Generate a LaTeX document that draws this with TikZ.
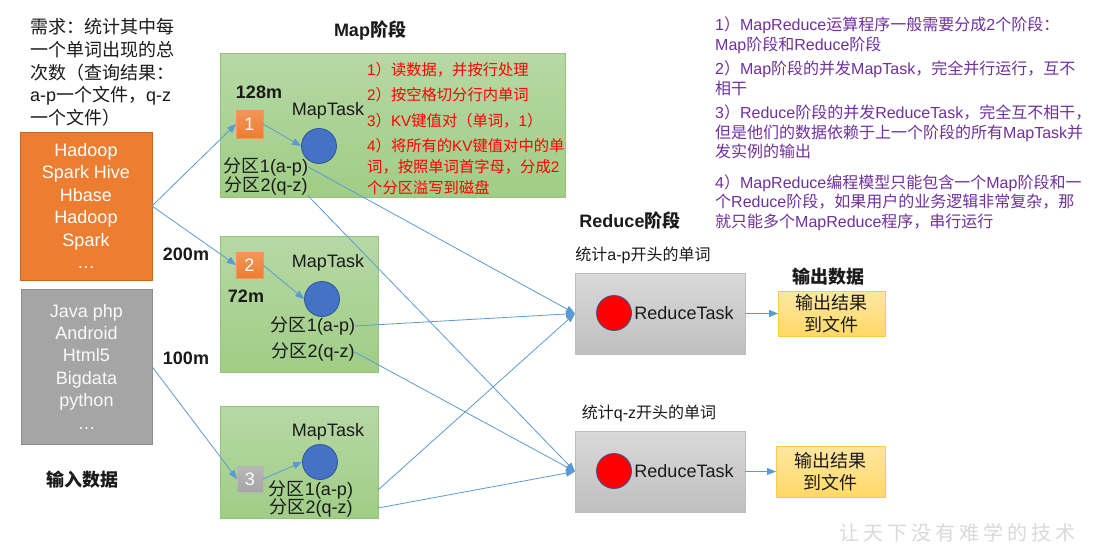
\documentclass[tikz,border=0pt]{standalone}
\usepackage{fontspec}
\setmainfont{Liberation Sans}
\newfontfamily\cjk{Noto Sans CJK SC}
\newfontfamily\cjkwm{Noto Sans CJK SC}[LetterSpace=20]
\usetikzlibrary{arrows.meta}
\newcommand\zh[1]{{\cjk #1}}
\definecolor{arr}{HTML}{5B9BD5}
\definecolor{orangeA}{HTML}{ED7D31}
\definecolor{orangeB}{HTML}{C9651F}
\definecolor{grayA}{HTML}{A5A5A5}
\definecolor{grayB}{HTML}{8C8C8C}
\definecolor{greenT}{HTML}{B7D8A5}
\definecolor{greenB}{HTML}{A0CD86}
\definecolor{greenE}{HTML}{94C47A}
\definecolor{redT}{HTML}{D9D9D9}
\definecolor{redB}{HTML}{BFBFBF}
\definecolor{redE}{HTML}{BDBDBD}
\definecolor{outT}{HTML}{FFE7A3}
\definecolor{outB}{HTML}{FFD966}
\definecolor{outE}{HTML}{FFC94A}
\definecolor{mapblue}{HTML}{4472C4}
\definecolor{mapblueE}{HTML}{2F5597}
\definecolor{txtred}{HTML}{FF0000}
\definecolor{txtpurple}{HTML}{7030A0}
\definecolor{txt}{HTML}{1A1A1A}
\begin{document}
\begin{tikzpicture}[x=1pt,y=-1pt,
  conn/.style={draw=arr, line width=0.8pt, -{Triangle[length=9pt,width=7pt]}},
  plain/.style={draw=arr, line width=0.8pt},
  box/.style={anchor=north west, inner sep=0pt, outer sep=0pt},
  inbox/.style={box, align=center, text=white, font=\fontsize{18}{22.4}\selectfont},
  mapbox/.style={box, top color=greenT, bottom color=greenB, draw=greenE, line width=0.8pt},
  redbox/.style={box, top color=redT, bottom color=redB, draw=redE, line width=0.8pt},
  outbox/.style={box, top color=outT, bottom color=outB, draw=outE, line width=0.8pt, align=center, text=txt, font=\fontsize{18}{22}\selectfont},
  sq/.style={box, text=white, font=\fontsize{18}{18}\selectfont},
  mapc/.style={circle, minimum size=35pt, inner sep=0pt, fill=mapblue, draw=mapblueE, line width=0.8pt},
  redc/.style={circle, minimum size=35pt, inner sep=0pt, fill=red, draw=mapblueE, line width=0.8pt},
  lbl/.style={inner sep=0pt, text=txt, font=\fontsize{18}{19}\selectfont},
  blbl/.style={inner sep=0pt, text=txt, font=\fontsize{18}{19}\selectfont\bfseries},
  note/.style={anchor=north west, inner sep=0pt, align=left}
]
\useasboundingbox (0,0) rectangle (1106,557);
\fill[white] (0,0) rectangle (1106,557);

% requirement text
\node[note, text=txt, font=\fontsize{18}{22.8}\selectfont] (req) at (30,18)
 {\zh{需求：统计其中每}\\ \zh{一个单词出现的总}\\ \zh{次数（查询结果：}\\ a-p\zh{一个文件，}q-z\\ \zh{一个文件）}};

% input boxes
\node[inbox, fill=orangeA, draw=orangeB, line width=0.8pt, minimum width=132pt, minimum height=148pt] (inA) at (20,132)
 {Hadoop\\ Spark Hive\\ Hbase\\ Hadoop\\ Spark\\ …};
\node[inbox, text=white!95!gray, fill=grayA, draw=grayB, line width=0.8pt, minimum width=131pt, minimum height=155pt] (inB) at (21,289)
 {Java php\\ Android\\ Html5\\ Bigdata\\ python\\ …};
\node[blbl] (inlbl) at (82,480) {\zh{输入数据}};

% map stage
\node[blbl] (maptitle) at (370,31) {Map\zh{阶段}};
\node[mapbox, minimum width=345pt, minimum height=144pt] (map1) at (220,53) {};
\node[mapbox, minimum width=158pt, minimum height=136pt] (map2) at (220,236) {};
\node[mapbox, minimum width=158pt, minimum height=112pt] (map3) at (220,406) {};

\node[sq, top color=orangeA!80!white, bottom color=orangeA, draw=orangeA!80!white, minimum width=27pt, minimum height=28pt] (sq1) at (236,110) {1};
\node[sq, top color=orangeA!80!white, bottom color=orangeA, draw=orangeA!80!white, minimum width=27pt, minimum height=26pt] (sq2) at (236,252) {2};
\node[sq, top color=grayA!80!white, bottom color=grayA, draw=grayA!80!white, minimum width=26pt, minimum height=26pt] (sq3) at (237,466) {3};

\node[blbl] (s128) at (259,92) {128m};
\node[blbl] (s200) at (186,254) {200m};
\node[blbl] (s72) at (246,296) {72m};
\node[blbl] (s100) at (186,358) {100m};

\node[lbl] (mt1) at (328,111) {MapTask};
\node[lbl] (mt2) at (328,263) {MapTask};
\node[lbl] (mt3) at (328,432) {MapTask};

\node[mapc] (c1) at (319,146) {};
\node[mapc] (c2) at (322,299) {};
\node[mapc] (c3) at (320,462) {};

\node[lbl] (p11) at (266,167) {\zh{分区}1(a-p)};
\node[lbl] (p12) at (266,186) {\zh{分区}2(q-z)};
\node[lbl] (p21) at (313,326) {\zh{分区}1(a-p)};
\node[lbl] (p22) at (313,352) {\zh{分区}2(q-z)};
\node[lbl] (p31) at (311,490) {\zh{分区}1(a-p)};
\node[lbl] (p32) at (311,508) {\zh{分区}2(q-z)};

\node[note, text=txtred, font=\fontsize{15.3}{21}\selectfont] (steps) at (367,62)
 {1\zh{）读数据，并按行处理}\\[4.5pt]
  2\zh{）按空格切分行内单词}\\[4.5pt]
  3\zh{）}KV\zh{键值对（单词，}1\zh{）}\\[4.5pt]
  4\zh{）将所有的}KV\zh{键值对中的单}\\
  \zh{词，按照单词首字母，分成}2\\
  \zh{个分区溢写到磁盘}};

% reduce stage
\node[blbl] (redtitle) at (630,221) {Reduce\zh{阶段}};
\node[lbl, font=\fontsize{16}{18}\selectfont] (r1lbl) at (643,255) {\zh{统计}a-p\zh{开头的单词}};
\node[lbl, font=\fontsize{16}{18}\selectfont] (r2lbl) at (649,413) {\zh{统计}q-z\zh{开头的单词}};
\node[redbox, minimum width=170pt, minimum height=81pt] (red1) at (575,273) {};
\node[redbox, minimum width=170pt, minimum height=81pt] (red2) at (575,431) {};
\node[redc] (rc1) at (614,313) {};
\node[redc] (rc2) at (614,471) {};
\node[lbl] (rt1) at (684,313) {ReduceTask};
\node[lbl] (rt2) at (684,471) {ReduceTask};

% output
\node[blbl] (outlbl) at (828,277) {\zh{输出数据}};
\node[outbox, minimum width=107pt, minimum height=45pt] (out1) at (778,291) {\zh{输出结果}\\ \zh{到文件}};
\node[outbox, minimum width=109pt, minimum height=51pt] (out2) at (776,446) {\zh{输出结果}\\ \zh{到文件}};

% notes
\node[note, text=txtpurple, font=\fontsize{16}{19.5}\selectfont] (notes) at (715,17)
 {1\zh{）}MapReduce\zh{运算程序一般需要分成}2\zh{个阶段：}\\
  Map\zh{阶段和}Reduce\zh{阶段}\\[5pt]
  2\zh{）}Map\zh{阶段的并发}MapTask\zh{，完全并行运行，互不}\\
  \zh{相干}\\[5pt]
  3\zh{）}Reduce\zh{阶段的并发}ReduceTask\zh{，完全互不相干，}\\
  \zh{但是他们的数据依赖于上一个阶段的所有}MapTask\zh{并}\\
  \zh{发实例的输出}\\[11pt]
  4\zh{）}MapReduce\zh{编程模型只能包含一个}Map\zh{阶段和一}\\
  \zh{个}Reduce\zh{阶段，如果用户的业务逻辑非常复杂，那}\\
  \zh{就只能多个}MapReduce\zh{程序，串行运行}};

% watermark
\node[inner sep=0pt, text=black!15, font=\fontsize{20}{20}\selectfont\cjkwm] (wm) at (957,533) {让天下没有难学的技术};

% connectors
\draw[conn] (inA.east) -- (sq1.west);
\draw[conn] (inA.east) -- (sq2.west);
\draw[conn] (inB.east) -- (sq3.west);
\draw[conn] (sq1.east) -- (c1.west);
\draw[conn] (sq2.east) -- (c2.west);
\draw[conn] (sq3.east) -- (c3.west);

\draw[conn] (p11.east) -- (red1.west);
\draw[conn] (p12.south east) -- (red2.west);
\draw[conn] (p21.east) -- (red1.west);
\draw[conn] (p22.east) -- (red2.west);
\draw[conn] (p31 -| map3.east) -- (red1.west);
\draw[conn] (p32 -| map3.east) -- (red2.west);

\draw[conn] (red1.east) -- (out1.west);
\draw[conn] (red2.east) -- (out2.west);
\end{tikzpicture}
\end{document}
